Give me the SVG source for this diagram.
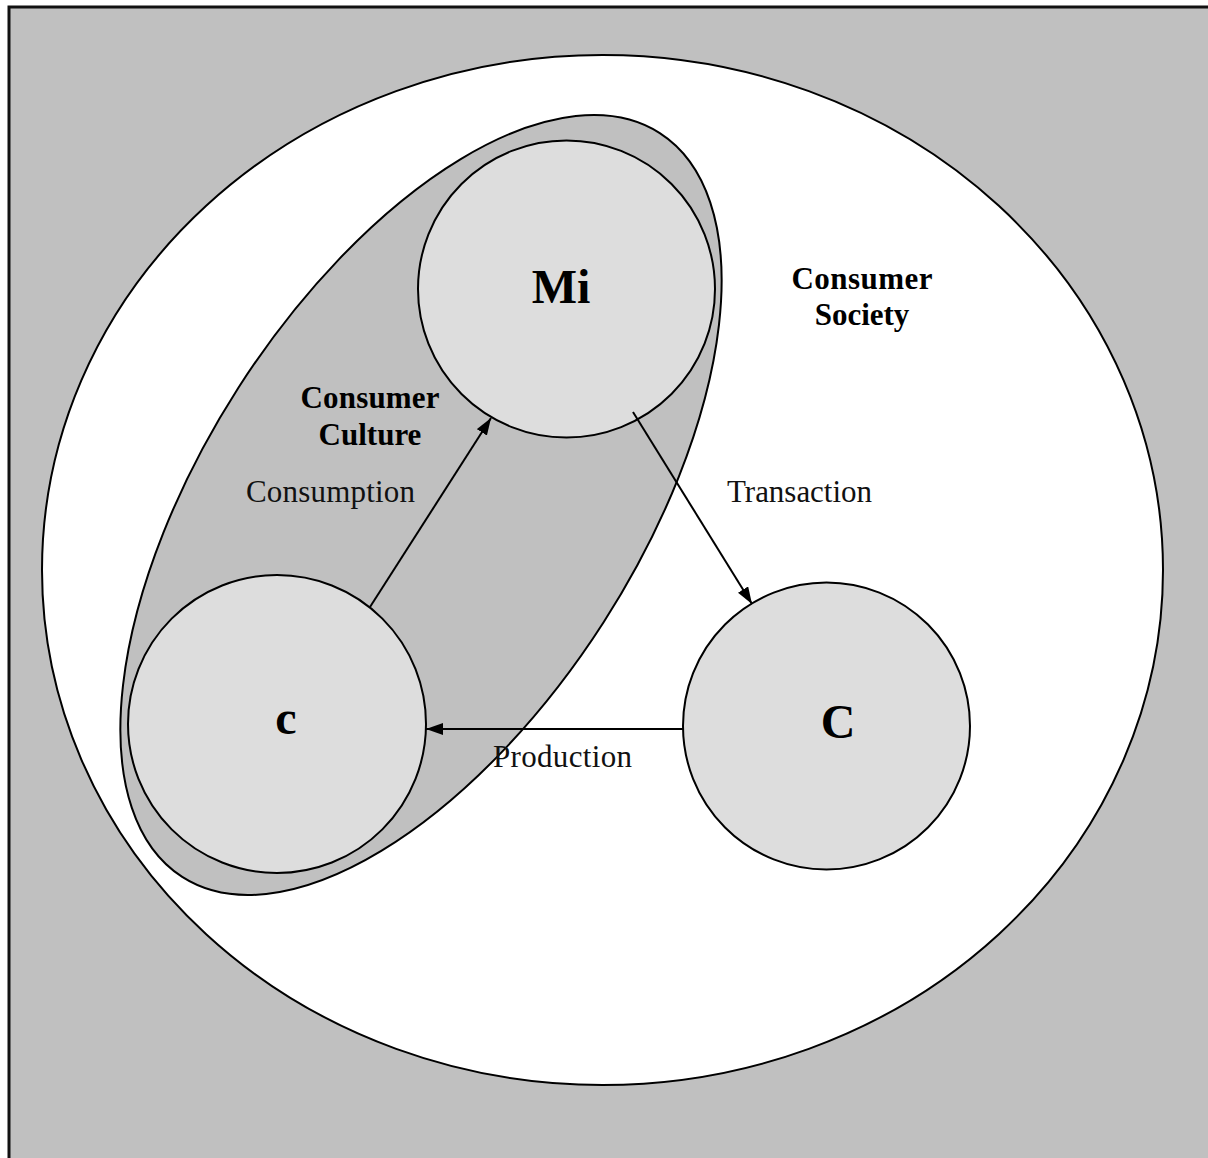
<svg xmlns="http://www.w3.org/2000/svg" width="1208" height="1158" viewBox="0 0 1208 1158">
<defs>
<style>
.line{stroke:#000;stroke-width:2;fill:none}
.node{fill:#dddddd;stroke:#000;stroke-width:2}
.big{font-family:"Liberation Serif",serif;font-weight:bold;font-size:48px;fill:#000;text-anchor:middle}
.area{font-family:"Liberation Serif",serif;font-weight:bold;font-size:31px;fill:#000;text-anchor:middle}
.lbl{font-family:"Liberation Serif",serif;font-size:31px;fill:#111}
</style>
<marker id="arr" viewBox="0 0 17 12" refX="17" refY="6" markerWidth="17" markerHeight="12" markerUnits="userSpaceOnUse" orient="auto">
<path d="M0,0 L17,6 L0,12 Z" fill="#000"/>
</marker>
</defs>
<rect x="9" y="7" width="1220" height="1180" fill="#c0c0c0" stroke="#111" stroke-width="3"/>
<g id="society">
<ellipse cx="602.5" cy="570" rx="560.5" ry="515" fill="#fff" stroke="#000" stroke-width="2"/>
<text class="area" x="862" y="289" textLength="141" lengthAdjust="spacing">Consumer</text>
<text class="area" x="862" y="325">Society</text>
</g>
<g id="culture">
<ellipse cx="421" cy="505" rx="442" ry="217" transform="rotate(-57.3 421 505)" fill="#c0c0c0" stroke="#000" stroke-width="2"/>
<text class="area" x="370" y="408" textLength="139" lengthAdjust="spacing">Consumer</text>
<text class="area" x="370" y="445">Culture</text>
</g>
<g id="node-Mi">
<circle class="node" cx="566.5" cy="289" r="148.5"/>
<text class="big" x="561" y="303">Mi</text>
</g>
<g id="node-c">
<circle class="node" cx="277" cy="724" r="149"/>
<text class="big" x="286" y="734">c</text>
</g>
<g id="node-C">
<circle class="node" cx="826.5" cy="726" r="143.5"/>
<text class="big" x="838" y="738">C</text>
</g>
<g id="connectors">
<line class="line" x1="370" y1="607" x2="491" y2="418" marker-end="url(#arr)"/>
<line class="line" x1="633" y1="412" x2="752" y2="604" marker-end="url(#arr)"/>
<line class="line" x1="683" y1="729" x2="426" y2="729" marker-end="url(#arr)"/>
<text class="lbl" x="246" y="502" textLength="169" lengthAdjust="spacing">Consumption</text>
<text class="lbl" x="727" y="502" textLength="145" lengthAdjust="spacing">Transaction</text>
<text class="lbl" x="493" y="767" textLength="139" lengthAdjust="spacing">Production</text>
</g>
</svg>
